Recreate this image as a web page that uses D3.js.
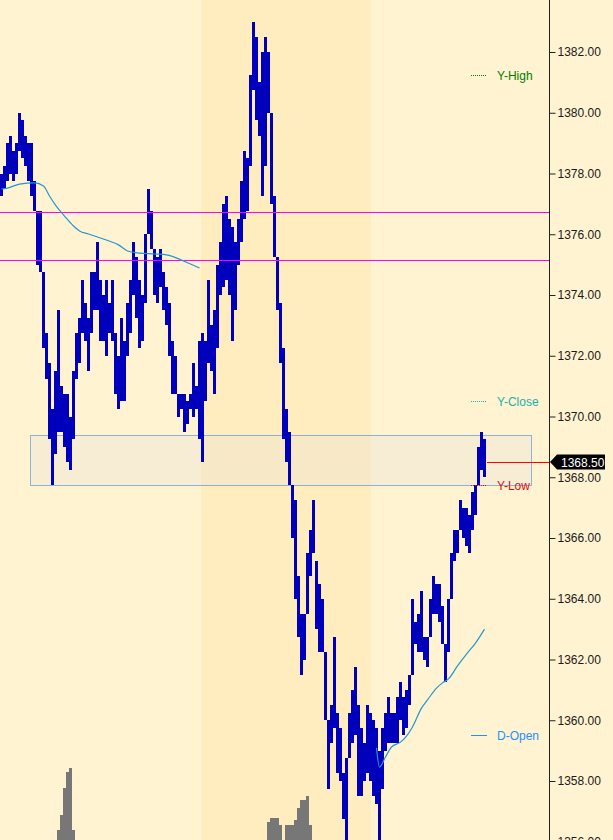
<!DOCTYPE html>
<html><head><meta charset="utf-8">
<script src="https://cdn.jsdelivr.net/npm/d3@7"></script>
<style>body{margin:0;background:#FFF3D1}svg{display:block}</style>
</head><body><svg id="c" width="613" height="840"></svg>
<script>
// ---- data ----
const barHigh = [1378.0,1378.25,1379.0,1379.25,1378.75,1379.0,1380.0,1379.75,1379.25,1379.0,
1379.0,1377.75,1376.75,1376.75,1374.75,1372.75,1371.75,1370.25,1371.5,1373.5,
1371.0,1370.75,1370.75,1370.0,1371.5,1372.75,1373.25,1374.5,1373.75,1373.25,
1374.75,1374.75,1375.75,1374.5,1374.0,1374.5,1373.75,1374.5,1372.75,1372.0,
1373.25,1372.5,1373.75,1374.5,1375.75,1375.25,1374.5,1374.0,1376.0,1377.5,
1376.75,1375.5,1375.25,1375.5,1374.75,1374.25,1373.75,1372.5,1372.0,1370.75,
1370.75,1370.75,1370.5,1370.75,1371.75,1371.0,1372.5,1372.75,1372.5,1374.5,
1373.0,1373.5,1375.0,1375.75,1377.0,1377.25,1376.5,1376.25,1375.75,1376.5,
1377.75,1378.75,1378.5,1381.25,1383.0,1382.5,1381.0,1382.0,1382.5,1382.0,
1380.0,1377.25,1375.25,1373.75,1372.25,1370.25,1369.5,1367.75,1367.25,1364.75,
1363.5,1363.5,1365.5,1366.25,1367.25,1365.25,1364.5,1364.0,1362.25,1360.0,
1360.5,1362.75,1360.25,1359.75,1358.25,1358.75,1360.25,1361.0,1361.75,1360.5,
1359.75,1359.25,1360.5,1360.25,1360.0,1359.75,1359.0,1359.75,1360.25,1360.75,
1360.25,1360.25,1360.75,1361.25,1360.75,1361.0,1361.5,1364.0,1363.25,1363.5,
1364.25,1362.75,1362.75,1364.0,1364.75,1364.5,1364.5,1363.75,1362.5,1364.0,
1365.5,1366.25,1366.25,1367.25,1367.0,1367.0,1366.75,1367.5,1367.75,1369.0,
1369.5,1369.25];
const barLow = [1377.25,1377.5,1377.75,1378.0,1377.75,1378.0,1378.75,1378.5,1378.25,1377.75,
1377.25,1376.75,1375.0,1374.75,1372.25,1371.25,1369.25,1367.75,1368.75,1369.5,
1369.5,1369.0,1368.5,1368.25,1369.25,1371.25,1371.75,1372.75,1372.5,1371.5,
1372.75,1373.5,1373.5,1372.5,1372.5,1372.0,1372.75,1372.5,1370.75,1370.25,
1370.5,1370.5,1372.0,1372.75,1374.0,1373.25,1372.25,1372.5,1373.75,1376.0,
1375.5,1374.0,1373.75,1374.25,1373.5,1373.0,1372.0,1370.75,1370.75,1370.0,
1370.25,1369.5,1369.75,1370.25,1370.0,1370.25,1369.25,1368.5,1370.5,1371.75,
1371.5,1370.75,1372.25,1374.0,1374.25,1374.5,1374.0,1372.5,1373.5,1375.0,
1375.75,1376.5,1376.75,1378.25,1380.75,1379.75,1379.25,1377.25,1378.25,1380.0,
1377.0,1375.25,1373.5,1371.75,1369.25,1368.5,1367.75,1366.0,1364.0,1362.75,
1361.5,1362.0,1363.5,1364.75,1365.5,1363.0,1362.25,1362.25,1360.0,1357.75,
1359.25,1359.75,1358.25,1358.0,1356.75,1356.0,1358.75,1359.25,1359.5,1357.5,
1357.5,1358.0,1358.25,1358.0,1357.5,1357.25,1356.0,1357.75,1359.0,1359.25,
1359.25,1359.25,1359.25,1360.0,1359.5,1359.75,1360.5,1361.5,1362.5,1362.25,
1362.25,1362.0,1361.75,1362.75,1363.5,1363.5,1363.25,1362.5,1361.25,1362.25,
1364.0,1365.25,1365.5,1366.25,1366.0,1365.75,1365.5,1366.25,1366.75,1367.75,
1368.25,1368.0];
const volIndex = [19,20,21,22,23,24, 89,90,91,92,93, 95,96,97,98,99,100,101,102,103];
const volValue = [10,25,52,68,72,10, 18,22,22,22,15, 15,15,15,20,32,40,40,44,15];
const ma1Index = [0,2,6,11,14,16,18,21,24,26,29,32,35,39,42,46,51,55,60,63,66];
const ma1Value = [1377.49,1377.52,1377.65,1377.69,1377.59,1377.26,1376.96,1376.60,1376.27,1376.11,
1376.01,1375.91,1375.81,1375.65,1375.45,1375.38,1375.35,1375.32,1375.15,1375.02,1374.89];
const ma2Index = [125,126,128,130,133,135,137,140,142,145,147,149,152,155,158,161];
const ma2Value = [1359.09,1358.46,1358.79,1359.12,1359.28,1359.48,1359.78,1360.40,1360.67,1361.06,
1361.23,1361.36,1361.79,1362.18,1362.54,1363.00];
const pivotLevels = [1376.73, 1375.15];
const rangeBoxTop = 1369.4, rangeBoxBottom = 1367.75, rangeBoxFrom = 10, rangeBoxTo = 177;
const sessionFrom = 67, sessionTo = 123.6;
const legendNames = ["Y-High","Y-Close","Y-Low","D-Open"];
const legendLevels = [1381.25, 1370.5, 1367.75, 1359.5];
const lastPrice = 1368.50;
const yTicks = [1356,1358,1360,1362,1364,1366,1368,1370,1372,1374,1376,1378,1380,1382];

// ---- styles ----
const W = 613, H = 840, axisX = 549;
const FONT = "'Liberation Sans', Arial, sans-serif";
const legendStyle = {
  "Y-High": {color:"#008000", dash:"1,1"},
  "Y-Close":{color:"#20B2AA", dash:"1,1"},
  "Y-Low":  {color:"#E01010", dash:"1,1"},
  "D-Open": {color:"#1E90FF", dash:null}
};

const svg = d3.select("#c");
const N = barHigh.length;
const x = d3.scaleLinear().domain([0, N]).range([0, 3 * N]);
const y = d3.scaleLinear().domain([1356, 1382]).range([841.75, 52]);
const v = d3.scaleLinear().domain([0, 100]).range([H, H - 100]);

svg.append("rect").attr("width", W).attr("height", H).attr("fill", "#FFF3D1");
svg.append("rect").attr("x", x(sessionFrom)).attr("y", 0)
  .attr("width", x(sessionTo) - x(sessionFrom)).attr("height", H).attr("fill", "#FFEDC0");

// range box
svg.append("rect").attr("x", x(rangeBoxFrom) + 0.5).attr("y", Math.round(y(rangeBoxTop)) + 0.5)
  .attr("width", x(rangeBoxTo) - x(rangeBoxFrom)).attr("height", Math.round(y(rangeBoxBottom)) - Math.round(y(rangeBoxTop)))
  .attr("fill", "rgba(215,215,230,0.2)").attr("stroke", "#1878E0")
  .attr("stroke-dasharray", "1,1").attr("stroke-width", 1);

// volume
svg.append("g").selectAll("rect").data(volIndex).join("rect")
  .attr("x", d => x(d)).attr("width", x(1) - x(0))
  .attr("y", (d, i) => v(volValue[i])).attr("height", (d, i) => H - v(volValue[i]))
  .attr("fill", "#777777").attr("shape-rendering", "crispEdges");

// price bars
svg.append("g").selectAll("rect").data(d3.range(N)).join("rect")
  .attr("x", i => x(i)).attr("width", x(1) - x(0))
  .attr("y", i => y(barHigh[i])).attr("height", i => Math.max(1, y(barLow[i]) - y(barHigh[i])))
  .attr("fill", "#0000BC").attr("shape-rendering", "crispEdges");

// pivot lines
svg.append("g").selectAll("line").data(pivotLevels).join("line")
  .attr("x1", 0).attr("x2", axisX).attr("y1", d => Math.round(y(d)) + 0.5).attr("y2", d => Math.round(y(d)) + 0.5)
  .attr("stroke", "#FF00FF").attr("stroke-width", 1);

// moving average segments
const maLine = d3.line().x(d => x(d[0]) + 1.5).y(d => y(d[1])).curve(d3.curveMonotoneX);
[[ma1Index, ma1Value], [ma2Index, ma2Value]].forEach(([ix, vals]) => {
  svg.append("path").attr("d", maLine(ix.map((d, i) => [d, vals[i]])))
    .attr("fill", "none").attr("stroke", "#2596D0").attr("stroke-width", 1.2);
});

// last price line
const yl = Math.round(y(lastPrice)) + 0.5;
svg.append("line").attr("x1", x(N) + 1).attr("x2", axisX).attr("y1", yl).attr("y2", yl)
  .attr("stroke", "#FF0000").attr("stroke-width", 1);

// legend
const lg = svg.append("g");
legendNames.forEach((name, i) => {
  const st = legendStyle[name];
  const ly = Math.round(y(legendLevels[i])) + 0.5;
  lg.append("line").attr("x1", 471).attr("x2", 487).attr("y1", ly).attr("y2", ly)
    .attr("stroke", st.color).attr("stroke-width", 1)
    .attr("stroke-dasharray", st.dash);
  lg.append("text").attr("x", 497).attr("y", ly + 4).text(name)
    .attr("fill", st.color).attr("font-family", FONT).attr("font-size", 12);
});

// axis
svg.append("line").attr("x1", axisX + 0.5).attr("x2", axisX + 0.5).attr("y1", 0).attr("y2", H)
  .attr("stroke", "#222");
const ax = svg.append("g").attr("transform", `translate(${axisX + 0.5},0)`)
  .call(d3.axisRight(y).tickValues(yTicks).tickFormat(d3.format(".2f")).tickSize(6).tickPadding(2).tickSizeOuter(0));
ax.select(".domain").remove();
ax.selectAll("line").attr("stroke", "#222");
ax.selectAll("text").attr("font-family", FONT).attr("font-size", 12).attr("fill", "#1a1a1a");

// last price marker
const yc = y(lastPrice);
svg.append("path")
  .attr("d", `M${axisX + 1},${yc} L${axisX + 8},${yc - 7.5} L${605},${yc - 7.5} L${605},${yc + 7.5} L${axisX + 8},${yc + 7.5} Z`)
  .attr("fill", "#000");
svg.append("text").attr("x", 561).attr("y", yc + 4.5).text(d3.format(".2f")(lastPrice))
  .attr("fill", "#fff").attr("font-family", FONT).attr("font-size", 12);
</script></body></html>
